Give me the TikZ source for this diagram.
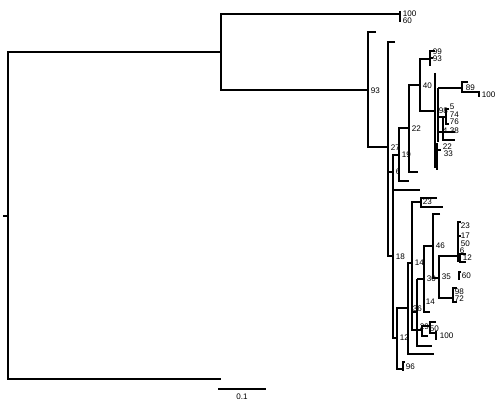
\documentclass[tikz,border=0pt]{standalone}
\usepackage{fontspec}
\setmainfont{Liberation Sans}
\begin{document}
\begin{tikzpicture}[x=0.02cm, y=-0.02cm, font=\fontsize{4.6}{5}\selectfont]
    \tikzstyle{branch}=[line width=0.9pt]
    \tikzstyle{boot}=[anchor=west, inner sep=0.3pt]
    \useasboundingbox (0,0) rectangle (500,401);

    % root and the two long branches
    \draw[branch] (3,216) -- (8,216);
    \draw[branch] (221,52) -- (8,52) -- (8,379) -- (221,379);
    \draw[branch] (400,14) -- (221,14) -- (221,90) -- (368,90);
    \draw[branch] (400,11) -- (400,22);
    \node[boot] (b100a) at (402,14) {100};
    \node[boot] (b60a) at (402,21) {60};

    % upper clade
    \draw[branch] (376,32) -- (368,32) -- (368,147) -- (388,147);
    \node[boot] (b93a) at (370,91) {93};
    \draw[branch] (395,42) -- (388,42) -- (388,256) -- (393,256);
    \node[boot] (b27) at (390,148) {27};
    \draw[branch] (388,172) -- (393,172);
    \node[boot] (b6a) at (395,172) {6};
    \draw[branch] (399,155) -- (393,155) -- (393,338) -- (397,338);
    \draw[branch] (393,190) -- (420,190);
    \draw[branch] (409,128) -- (399,128) -- (399,181) -- (409,181);
    \node[boot] (b19) at (401,155) {19};
    \draw[branch] (420,85) -- (409,85) -- (409,172) -- (418,172);
    \node[boot] (b22a) at (411,129) {22};
    \draw[branch] (430,59) -- (420,59) -- (420,111) -- (435,111);
    \node[boot] (b40) at (422,86) {40};
    \draw[branch] (435,51) -- (430,51) -- (430,66);
    \draw[branch] (430,58) -- (433,58);
    \node[boot] (b99) at (432,52) {99};
    \node[boot] (b93b) at (432,59) {93};
    \draw[branch] (435,73) -- (435,168);
    \draw[branch] (438,88) -- (438,142);
    \draw[branch] (438,88) -- (462,88);
    \draw[branch] (468,82) -- (462,82) -- (462,92) -- (479,92);
    \draw[branch] (479,91) -- (479,97);
    \node[boot] (b89) at (465,88) {89};
    \node[boot] (b100b) at (481,95) {100};
    \draw[branch] (449,109) -- (446,109) -- (446,124) -- (449,124);
    \draw[branch] (438,117) -- (446,117);
    \node[boot] (b98a) at (438,111) {98};
    \node[boot] (b5) at (449,106.5) {5};
    \node[boot] (b74) at (449,114.5) {74};
    \node[boot] (b76) at (449,122) {76};
    \draw[branch] (438,132) -- (455,132);
    \draw[branch] (443,118) -- (443,140) -- (455,140);
    \node[boot] (b4) at (442,131) {4};
    \node[boot] (b38) at (449,131) {38};
    \draw[branch] (437,143) -- (437,170);
    \draw[branch] (437,150) -- (441,150);
    \node[boot] (b22b) at (442,147) {22};
    \node[boot] (b33) at (443,154) {33};

    % lower clade
    \node[boot] (b18) at (395,257) {18};
    \draw[branch] (408,308) -- (397,308) -- (397,369) -- (403,369);
    \draw[branch] (405,362) -- (403,362) -- (403,371);
    \node[boot] (b96) at (405,367) {96};
    \node[boot] (b12a) at (399,338) {12};
    \draw[branch] (412,263) -- (408,263) -- (408,354) -- (434,354);
    \draw[branch] (421,202) -- (412,202) -- (412,330) -- (422,330);
    \node[boot] (b14a) at (414,263) {14};
    \draw[branch] (437,198) -- (421,198) -- (421,207) -- (443,207);
    \node[boot] (b23a) at (422,202) {23};
    \draw[branch] (412,312) -- (417,312);
    \draw[branch] (417,279) -- (417,346) -- (432,346);
    \node[boot] (b36) at (412,309) {36};
    \draw[branch] (417,279) -- (424,279);
    \draw[branch] (433,246) -- (424,246) -- (424,312) -- (430,312);
    \node[boot] (b30) at (426,279) {30};
    \node[boot] (b14b) at (425,302) {14};
    \draw[branch] (440,214) -- (433,214) -- (433,278) -- (439,278);
    \node[boot] (b46) at (435,246) {46};
    \draw[branch] (458,256) -- (439,256) -- (439,298) -- (453,298);
    \node[boot] (b35) at (441,277) {35};
    \draw[branch] (461,222) -- (458,222) -- (458,262);
    \draw[branch] (458,236) -- (461,236);
    \draw[branch] (466,254) -- (460,254) -- (460,262) -- (466,262);
    \draw[branch] (461,272) -- (459,272) -- (459,280);
    \node[boot] (b23b) at (460,226) {23};
    \node[boot] (b17) at (460,236) {17};
    \node[boot] (b50a) at (460,244) {50};
    \node[boot] (b6b) at (459,251) {6};
    \node[boot] (b12b) at (462,258) {12};
    \node[boot] (b60b) at (461,276) {60};
    \draw[branch] (457,288) -- (453,288) -- (453,302) -- (457,302);
    \node[boot] (b98b) at (454,292) {98};
    \node[boot] (b72) at (454,299) {72};
    \draw[branch] (430,326) -- (422,326) -- (422,336) -- (428,336);
    \node[boot] (b29) at (419,327) {29};
    \draw[branch] (436,322) -- (430,322) -- (430,333) -- (436,333);
    \draw[branch] (436,331) -- (436,340);
    \node[boot] (b50b) at (429,329) {50};
    \node[boot] (b100c) at (439,336) {100};

    % scale bar
    \draw[branch] (218,389) -- (266,389);
    \node (scale) at (242,397) {0.1};
\end{tikzpicture}
\end{document}
